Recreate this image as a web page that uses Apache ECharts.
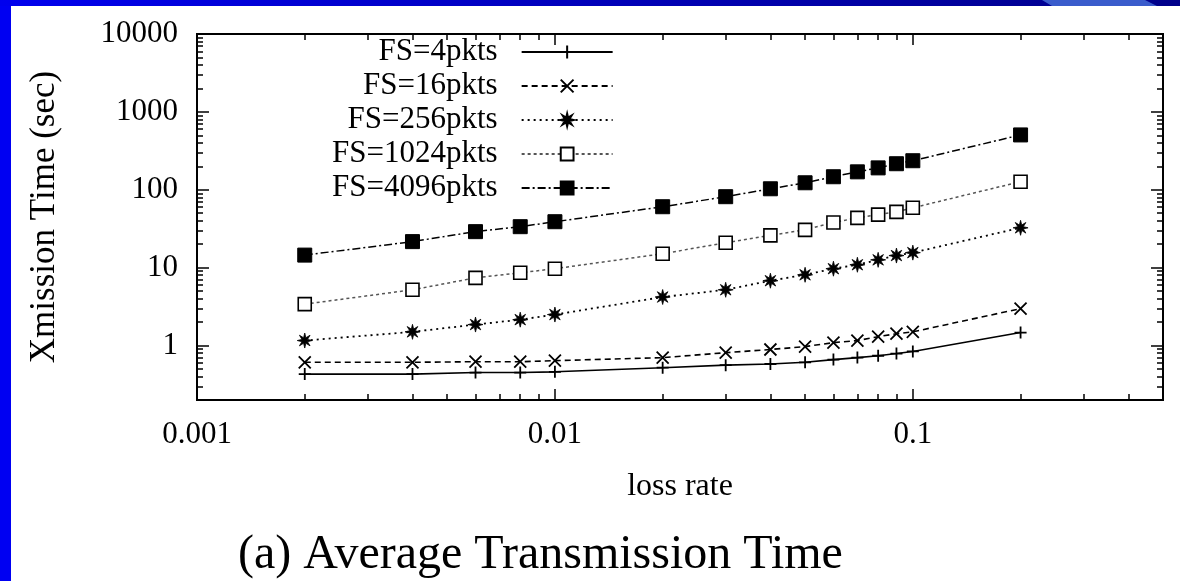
<!DOCTYPE html>
<html><head><meta charset="utf-8">
<script src="https://cdn.jsdelivr.net/npm/echarts@6/dist/echarts.min.js"></script>
<style>html,body{margin:0;padding:0;background:#fff}#c{width:1180px;height:581px}</style>
</head><body><div id="c"></div>
<script>
// ---- data ----
const lossRate = [0.002, 0.004, 0.006, 0.008, 0.01, 0.02, 0.03, 0.04, 0.05, 0.06, 0.07, 0.08, 0.09, 0.1, 0.2];
const fs4    = [0.43, 0.43, 0.45, 0.45, 0.46, 0.52, 0.56, 0.58, 0.61, 0.66, 0.70, 0.74, 0.79, 0.84, 1.47];
const fs16   = [0.61, 0.61, 0.62, 0.62, 0.64, 0.70, 0.81, 0.89, 0.97, 1.09, 1.16, 1.30, 1.42, 1.50, 2.98];
const fs256  = [1.16, 1.5, 1.86, 2.15, 2.5, 4.2, 5.2, 6.8, 8.1, 9.7, 10.9, 12.6, 14.3, 15.6, 32.5];
const fs1024 = [3.4, 5.2, 7.4, 8.6, 9.7, 15.1, 20.9, 26, 30.6, 38, 43.6, 48, 52, 58.7, 127];
const fs4096 = [14.5, 21.6, 29, 33.6, 38.9, 60.6, 81.5, 103, 123, 147, 170, 191, 216, 236, 506];
const seriesNames = ['FS=4pkts', 'FS=16pkts', 'FS=256pkts', 'FS=1024pkts', 'FS=4096pkts'];

const xMin = 0.001, xMax = 0.5, yMin = 0.2, yMax = 10000;
const xMajorTicks = [0.001, 0.01, 0.1];
const xMinorTicks = [0.002, 0.003, 0.004, 0.005, 0.006, 0.007, 0.008, 0.009,
                     0.02, 0.03, 0.04, 0.05, 0.06, 0.07, 0.08, 0.09, 0.2, 0.3, 0.4];
const yMajorTicks = [1, 10, 100, 1000, 10000];
const yMinorTicks = [0.3, 0.4, 0.5, 0.6, 0.7, 0.8, 0.9, 2, 3, 4, 5, 6, 7, 8, 9,
                     20, 30, 40, 50, 60, 70, 80, 90, 200, 300, 400, 500, 600, 700, 800, 900,
                     2000, 3000, 4000, 5000, 6000, 7000, 8000, 9000];
const xLabels = ['0.001', '0.01', '0.1'];
const yLabels = ['1', '10', '100', '1000', '10000'];
const xTitle = 'loss rate';
const yTitle = 'Xmission Time (sec)';
const chartTitle = '(a) Average Transmission Time';

// ---- styling ----
const FONT = '"Liberation Serif", "DejaVu Serif", serif';
const GRID = { left: 197, right: 17, top: 34, bottom: 181 };

function starPath() {
  const pts = [];
  for (let i = 0; i < 16; i++) {
    const a = Math.PI * i / 8;
    const r = i % 2 === 0 ? 10 : 4;
    pts.push((10 + r * Math.sin(a)).toFixed(2) + ',' + (10 - r * Math.cos(a)).toFixed(2));
  }
  return 'path://M' + pts.join('L') + 'Z';
}
const SYM_PLUS = 'path://M0,5L10,5M5,0L5,10';
const SYM_X = 'path://M0,0L10,10M0,10L10,0';
const SYM_STAR = starPath();

function labelFor(list, labels) {
  return function (v) {
    for (let i = 0; i < list.length; i++) {
      if (Math.abs(Math.log10(v) - Math.log10(list[i])) < 1e-6) return labels[i];
    }
    return '';
  };
}

function tickAxis(gridIndex, position, values, len, min, max) {
  return {
    type: 'value', gridIndex: gridIndex, position: position,
    min: Math.log10(min), max: Math.log10(max),
    axisLine: { show: false, onZero: false },
    axisTick: { show: true, inside: true, length: len, customValues: values.map(Math.log10),
                lineStyle: { color: '#000', width: 1.5 } },
    axisLabel: { show: false },
    splitLine: { show: false },
    silent: true
  };
}

const grids = [0, 1, 2].map(i => Object.assign({ outerBoundsMode: 'none', containLabel: false }, GRID,
  i === 0 ? { show: true, borderColor: '#000', borderWidth: 2, backgroundColor: 'transparent' } : { show: false }));

const xAxes = [
  {
    type: 'log', logBase: 10, gridIndex: 0, position: 'bottom', min: xMin, max: xMax,
    axisLine: { show: false, onZero: false }, axisTick: { show: false },
    splitLine: { show: false }, minorTick: { show: false }, minorSplitLine: { show: false },
    axisLabel: { color: '#000', fontFamily: FONT, fontSize: 31, margin: 19,
                 showMaxLabel: false, formatter: labelFor(xMajorTicks, xLabels) },
    name: xTitle, nameLocation: 'middle', nameGap: 71,
    nameTextStyle: { color: '#000', fontFamily: FONT, fontSize: 32 }
  },
  tickAxis(1, 'bottom', xMinorTicks, 6, xMin, xMax),
  tickAxis(1, 'top', xMinorTicks, 6, xMin, xMax),
  tickAxis(2, 'bottom', xMajorTicks, 11, xMin, xMax),
  tickAxis(2, 'top', xMajorTicks, 11, xMin, xMax)
];
const yAxes = [
  {
    type: 'log', logBase: 10, gridIndex: 0, position: 'left', min: yMin, max: yMax,
    axisLine: { show: false, onZero: false }, axisTick: { show: false },
    splitLine: { show: false }, minorTick: { show: false }, minorSplitLine: { show: false },
    axisLabel: { color: '#000', fontFamily: FONT, fontSize: 31, margin: 19,
                 showMinLabel: false, formatter: labelFor(yMajorTicks, yLabels) },
    name: yTitle, nameLocation: 'middle', nameGap: 135, nameRotate: 90,
    nameTextStyle: { color: '#000', fontFamily: FONT, fontSize: 35 }
  },
  tickAxis(1, 'left', yMinorTicks, 6, yMin, yMax),
  tickAxis(1, 'right', yMinorTicks, 6, yMin, yMax),
  tickAxis(2, 'left', yMajorTicks, 12, yMin, yMax),
  tickAxis(2, 'right', yMajorTicks, 12, yMin, yMax)
];

const seriesDefs = [
  { name: seriesNames[0], values: fs4, symbol: SYM_PLUS, size: 12, line: { type: 'solid', color: '#000', width: 1.6 },
    item: { color: '#000', borderColor: '#000', borderWidth: 1.8 } },
  { name: seriesNames[1], values: fs16, symbol: SYM_X, size: 12, line: { type: [6, 4], color: '#000', width: 1.6 },
    item: { color: '#000', borderColor: '#000', borderWidth: 1.8 } },
  { name: seriesNames[2], values: fs256, symbol: SYM_STAR, size: 15, line: { type: [2, 4], color: '#000', width: 1.8 },
    item: { color: '#000', borderColor: '#000', borderWidth: 0.8 } },
  { name: seriesNames[3], values: fs1024, symbol: 'rect', size: 13, line: { type: [3, 3], color: '#555', width: 1.5 },
    item: { color: '#fff', borderColor: '#000', borderWidth: 1.6 } },
  { name: seriesNames[4], values: fs4096, symbol: 'rect', size: 14, line: { type: [8, 3, 2, 3], color: '#000', width: 1.5 },
    item: { color: '#000', borderColor: '#000', borderWidth: 1 } }
];

const series = seriesDefs.map(d => ({
  type: 'line', name: d.name, xAxisIndex: 0, yAxisIndex: 0,
  data: lossRate.map((x, i) => [x, d.values[i]]),
  symbol: d.symbol, symbolSize: d.size, showSymbol: true, showAllSymbol: true,
  lineStyle: d.line, itemStyle: d.item, emphasis: { disabled: true },
  animation: false, z: 3
}));

const option = {
  animation: false,
  backgroundColor: '#fff',
  title: {
    text: chartTitle, left: 233, top: 526, padding: 5,
    textStyle: { color: '#000', fontFamily: FONT, fontSize: 48, fontWeight: 'normal' }
  },
  legend: {
    data: seriesNames, orient: 'vertical', align: 'right', left: 332, top: 35,
    itemWidth: 91, itemHeight: 16, itemGap: 0, padding: 0, selectedMode: false,
    textStyle: { color: '#000', fontFamily: FONT, fontSize: 31, lineHeight: 34, padding: [0, 19, 0, 0] }
  },
  grid: grids,
  xAxis: xAxes,
  yAxis: yAxes,
  series: series,
  graphic: [
    { type: 'rect', shape: { x: 0, y: 0, width: 11, height: 581 }, style: { fill: '#0000f2' }, silent: true, z: 100 },
    { type: 'rect', shape: { x: 0, y: 0, width: 1180, height: 6 },
      style: { fill: new echarts.graphic.LinearGradient(0, 0, 1, 0, [
        { offset: 0, color: '#0000ee' }, { offset: 0.6, color: '#0000b0' }, { offset: 1, color: '#00008a' }]) },
      silent: true, z: 100 },
    { type: 'polygon', shape: { points: [[1042, 0], [1145, 0], [1157, 6], [1052, 6]] },
      style: { fill: '#3a5ccc' }, silent: true, z: 101 }
  ]
};

const chart = echarts.init(document.getElementById('c'), null, { renderer: 'canvas' });
chart.setOption(option);
</script>
</body></html>
